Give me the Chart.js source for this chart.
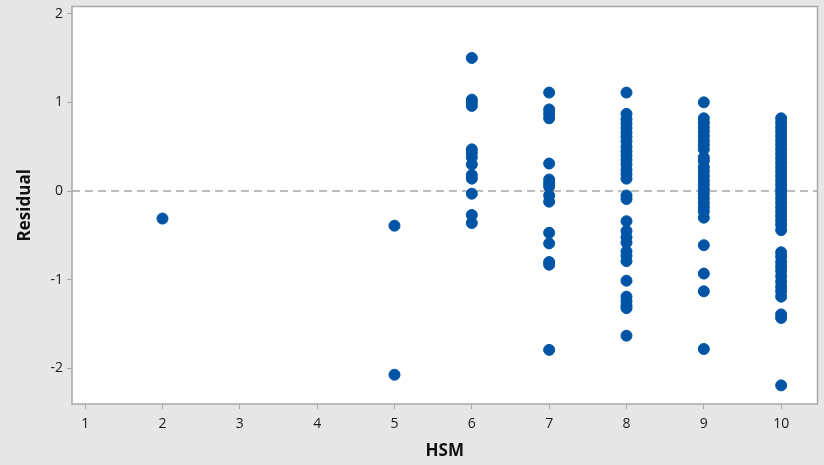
<!DOCTYPE html>
<html>
<head>
<meta charset="utf-8">
<script src="https://cdn.jsdelivr.net/npm/chart.js@4"></script>
<style>
  body { margin: 0; background: #e6e6e6; }
  canvas { display: block; }
</style>
</head>
<body>
<canvas id="residPlot" width="824" height="465"></canvas>
<script>
// residuals vs HSM, one list per HSM value
const hsmLevels = [2, 5, 6, 7, 8, 9, 10];
const resid2 = [-0.31];
const resid5 = [-0.39, -2.07];
const resid6 = [1.50, 1.03, 1.00, 0.96, 0.47, 0.43, 0.38, 0.30, 0.18, 0.14, -0.03, -0.27, -0.36];
const resid7 = [1.11, 0.92, 0.87, 0.82, 0.31, 0.13, 0.09, 0.05, -0.05, -0.12, -0.47, -0.59, -0.80, -0.83, -1.79];
const resid8 = [1.11, 0.87, 0.81, 0.76, 0.71, 0.66, 0.61, 0.56, 0.50, 0.45, 0.40, 0.35, 0.30, 0.24, 0.19, 0.14,
  -0.05, -0.09, -0.34, -0.45, -0.52, -0.58, -0.68, -0.73, -0.79, -1.01, -1.19, -1.24, -1.29, -1.32, -1.63];
const resid9 = [1.00, 0.82, 0.77, 0.72, 0.67, 0.62, 0.57, 0.52, 0.47, 0.38, 0.34, 0.27, 0.22, 0.17, 0.12, 0.07,
  0.02, -0.03, -0.08, -0.13, -0.18, -0.23, -0.30, -0.61, -0.93, -1.13, -1.78];
const resid10 = [0.82, 0.77, 0.72, 0.67, 0.62, 0.57, 0.52, 0.47, 0.42, 0.37, 0.32, 0.27, 0.22, 0.17, 0.12, 0.07,
  0.02, -0.03, -0.08, -0.13, -0.18, -0.23, -0.28, -0.33, -0.38, -0.44,
  -0.69, -0.74, -0.80, -0.85, -0.90, -0.96, -1.02, -1.08, -1.13, -1.19, -1.39, -1.43, -2.19];
const residLists = [resid2, resid5, resid6, resid7, resid8, resid9, resid10];

const xTicks = [1, 2, 3, 4, 5, 6, 7, 8, 9, 10];
const yTicks = [-2, -1, 0, 1, 2];
const xRange = [0.83, 10.47];
const yRange = [-2.40, 2.08];

const points = [];
hsmLevels.forEach((h, i) => {
  residLists[i].forEach(r => points.push({x: h, y: r}));
});

const plotFrame = {
  id: 'plotFrame',
  beforeDraw(chart) {
    const {ctx, chartArea: a} = chart;
    ctx.save();
    ctx.fillStyle = '#ffffff';
    ctx.fillRect(a.left, a.top, a.width, a.height);
    ctx.restore();
  },
  afterDraw(chart) {
    const {ctx, chartArea: a} = chart;
    ctx.save();
    ctx.strokeStyle = '#a8a8a8';
    ctx.lineWidth = 1.5;
    ctx.strokeRect(a.left, a.top, a.width, a.height);
    ctx.restore();
  }
};

const tickFont = {family: "'Open Sans', 'DejaVu Sans', sans-serif", size: 14};
const titleFont = {family: "'Open Sans', 'DejaVu Sans', sans-serif", size: 17, weight: 'bold'};

new Chart(document.getElementById('residPlot'), {
  type: 'scatter',
  data: {
    datasets: [
      {
        type: 'line',
        data: [{x: xRange[0], y: 0}, {x: xRange[1], y: 0}],
        borderColor: '#a6a6a6',
        borderWidth: 1.5,
        borderDash: [8, 5],
        pointRadius: 0,
        order: 2
      },
      {
        data: points,
        backgroundColor: '#0054a6',
        borderColor: '#0054a6',
        pointRadius: 5.5,
        pointHoverRadius: 5.5,
        order: 1
      }
    ]
  },
  options: {
    responsive: false,
    animation: false,
    layout: {padding: {top: 2, right: 6, left: 0, bottom: 0}},
    plugins: {legend: {display: false}, tooltip: {enabled: false}},
    scales: {
      x: {
        type: 'linear',
        min: xRange[0],
        max: xRange[1],
        afterBuildTicks: s => { s.ticks = xTicks.map(v => ({value: v})); },
        afterFit: s => { s.height = 61; s.paddingLeft = 0; s.paddingRight = 0; },
        border: {display: false},
        grid: {drawOnChartArea: false, drawTicks: true, tickLength: 5, color: '#a8a8a8'},
        ticks: {font: tickFont, color: '#1a1a1a', padding: 7, maxRotation: 0},
        title: {display: true, text: 'HSM', font: titleFont, color: '#111', padding: {top: 0}}
      },
      y: {
        type: 'linear',
        min: yRange[0],
        max: yRange[1],
        afterBuildTicks: s => { s.ticks = yTicks.map(v => ({value: v})); },
        afterFit: s => { s.width = 72; s.paddingTop = 0; s.paddingBottom = 0; },
        border: {display: false},
        grid: {drawOnChartArea: false, drawTicks: true, tickLength: 5, color: '#a8a8a8'},
        ticks: {font: tickFont, color: '#1a1a1a', padding: 4},
        title: {display: true, text: 'Residual', font: titleFont, color: '#111', padding: {top: 15, bottom: 0}}
      }
    }
  },
  plugins: [plotFrame]
});
</script>
</body>
</html>
